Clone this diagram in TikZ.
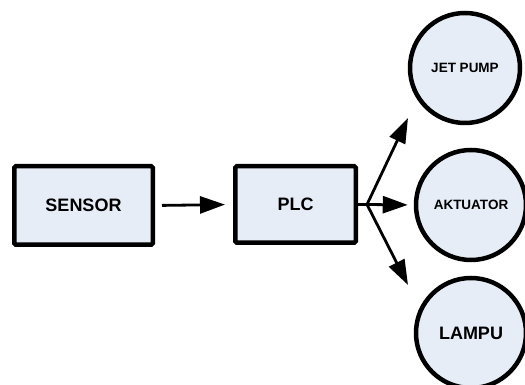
\documentclass[tikz,border=0pt]{standalone}
\usepackage{fontspec}
\setmainfont{Liberation Sans}
\usetikzlibrary{arrows.meta}
\definecolor{boxfill}{RGB}{231,237,247}
\begin{document}
\begin{tikzpicture}[x=1pt,y=1pt,
  block/.style={draw,line width=4.5pt,fill=boxfill,rounded corners=1.5pt,inner sep=0pt,font=\fontsize{18}{20}\selectfont\bfseries},
  unit/.style={draw,circle,line width=4.5pt,fill=boxfill,minimum size=110pt,inner sep=0pt},
  link/.style={line width=2.8pt,-{Triangle[length=25pt,width=17pt]}}]
\clip (0,0) rectangle (525,385);
% blocks
\node[block,minimum width=138.5pt,minimum height=78.5pt] (sensor) at (83.5,179.5) {SENSOR};
\node[block,minimum width=120.5pt,minimum height=76.5pt] (plc) at (295.5,180.5) {PLC};
% outputs
\node[unit,font=\fontsize{13.5}{15}\selectfont\bfseries] (jet) at (465,317) {JET PUMP};
\node[unit,font=\fontsize{13.5}{15}\selectfont\bfseries] (akt) at (471,180) {AKTUATOR};
\node[unit,font=\fontsize{18}{20}\selectfont\bfseries] (lampu) at (471,52) {LAMPU};
% connectors
\coordinate (split) at ([xshift=9pt]plc.east);
\coordinate (jettip) at (408,267);
\coordinate (lamputip) at (408,100);
\draw[link,shorten <=7pt,shorten >=8pt] (sensor.east) -- (plc.west);
\draw[line width=2.8pt] (plc.east) -- (split);
\draw[link] (split) -- (jettip);
\draw[link,shorten >=6pt] (split) -- (akt.west);
\draw[link] (split) -- (lamputip);
\end{tikzpicture}
\end{document}
